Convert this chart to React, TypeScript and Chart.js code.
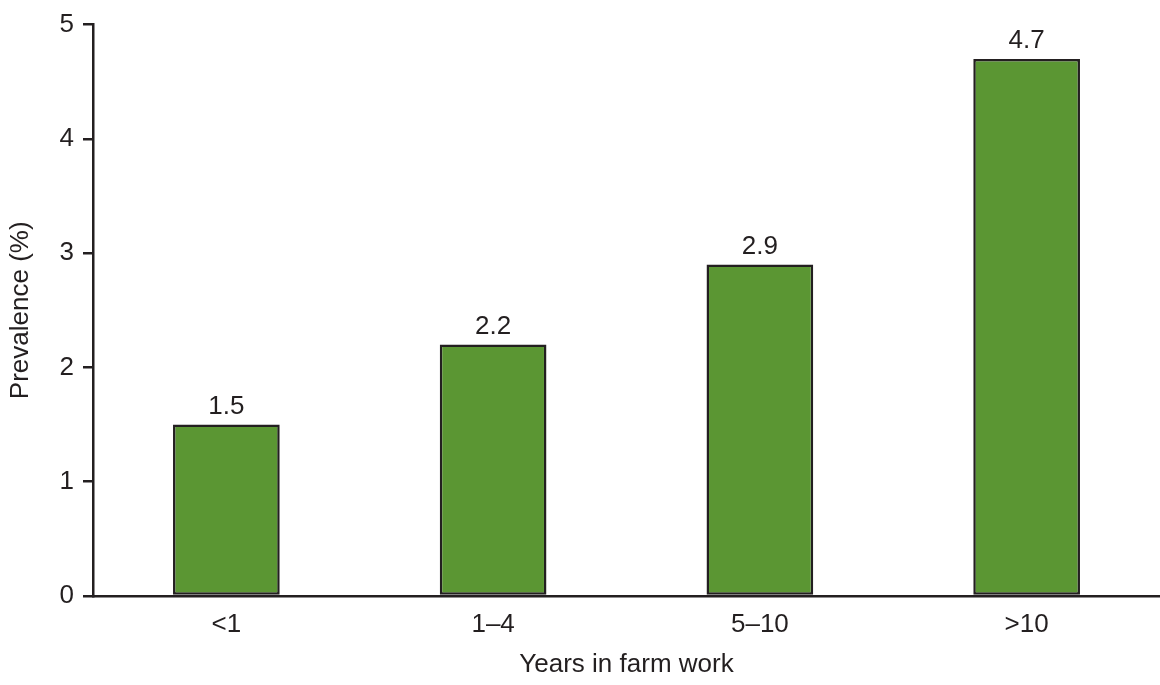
import React, { useEffect, useRef } from "react";
import { Chart, registerables } from "chart.js";

Chart.register(...registerables);

const categories = ["<1", "1–4", "5–10", ">10"];
const prevalence = [1.5, 2.2, 2.9, 4.7];
const yTicks = [0, 1, 2, 3, 4, 5];

const INK = "#231f20";
const FONT = "'Liberation Sans', Arial, Helvetica, sans-serif";
const FS = 26;

const valueLabels = {
  id: "valueLabels",
  afterDatasetsDraw(chart: any) {
    const ctx = chart.ctx;
    const meta = chart.getDatasetMeta(0);
    ctx.save();
    ctx.fillStyle = INK;
    ctx.font = `${FS}px ${FONT}`;
    ctx.textAlign = "center";
    ctx.textBaseline = "alphabetic";
    meta.data.forEach((bar: any, i: number) => {
      ctx.fillText(prevalence[i].toFixed(1), bar.x, bar.y - 11);
    });
    ctx.restore();
  },
};

export default function App() {
  const ref = useRef<HTMLCanvasElement>(null);
  useEffect(() => {
    if (!ref.current) return;
    const chart = new Chart(ref.current, {
      type: "bar",
      data: {
        labels: categories,
        datasets: [
          {
            data: prevalence,
            backgroundColor: "#5b9633",
            borderColor: INK,
            borderWidth: 2.5,
            borderSkipped: false,
            barPercentage: 0.4,
            categoryPercentage: 1,
          },
        ],
      },
      options: {
        responsive: false,
        devicePixelRatio: 1,
        animation: false,
        layout: { padding: { top: 23, right: 0, left: 0, bottom: 0 } },
        plugins: { legend: { display: false }, tooltip: { enabled: false } },
        scales: {
          x: {
            grid: { display: false, drawTicks: false },
            border: { display: true, color: INK, width: 2.5 },
            ticks: { color: INK, font: { size: FS, family: FONT }, padding: 13 },
            title: {
              display: true,
              text: "Years in farm work",
              color: INK,
              font: { size: FS, family: FONT },
              padding: { top: 0, bottom: 5 },
            },
            afterFit: (s: any) => {
              s.height = 89;
            },
          },
          y: {
            min: 0,
            max: 5,
            afterBuildTicks: (s: any) => {
              s.ticks = yTicks.map((v) => ({ value: v }));
            },
            grid: {
              display: true,
              drawOnChartArea: false,
              drawTicks: true,
              tickLength: 10,
              color: INK,
              lineWidth: 2.5,
            },
            border: { display: true, color: INK, width: 2.5 },
            ticks: { color: INK, font: { size: FS, family: FONT }, padding: 9 },
            title: {
              display: true,
              text: "Prevalence (%)",
              color: INK,
              font: { size: FS, family: FONT },
              padding: { top: 5, bottom: 0 },
            },
            afterFit: (s: any) => {
              s.width = 93;
            },
          },
        },
      },
      plugins: [valueLabels],
    });
    return () => chart.destroy();
  }, []);
  return (
    <div style={{ position: "absolute", left: 0, top: 0, width: 1160, height: 685, background: "#fff" }}>
      <canvas ref={ref} width={1160} height={685} />
    </div>
  );
}
